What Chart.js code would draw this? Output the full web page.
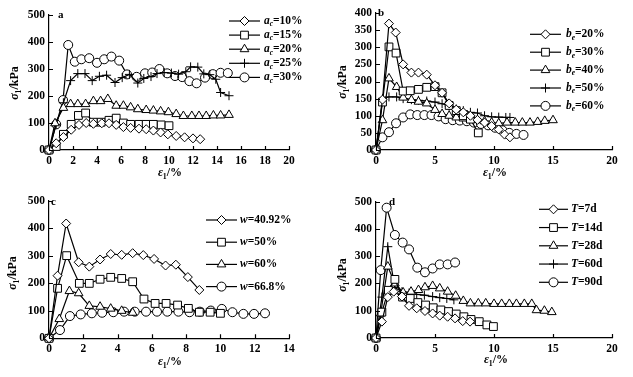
<!DOCTYPE html>
<html>
<head>
<meta charset="utf-8">
<script src="https://cdn.jsdelivr.net/npm/chart.js@4/dist/chart.umd.min.js"></script>
<style>
  body { margin: 0; background: #fff; }
  #wrap { position: relative; width: 633px; height: 377px; background: #fff; }
  canvas { position: absolute; }
</style>
</head>
<body>
<div id="wrap">
  <canvas id="pa" width="310" height="185" style="left:0;top:0"></canvas>
  <canvas id="pb" width="323" height="185" style="left:310px;top:0"></canvas>
  <canvas id="pc" width="310" height="192" style="left:0;top:185px"></canvas>
  <canvas id="pd" width="323" height="192" style="left:310px;top:185px"></canvas>
</div>
<script>
// ---- panel a : a_c ----
const aX10 = [0,0.6,1.2,1.85,2.5,3.1,3.7,4.4,5.0,5.6,6.2,6.8,7.5,8.1,8.7,9.3,9.9,10.6,11.3,12.0,12.6];
const aY10 = [0,25,48,75,93,100,97,99,99,93,85,82,79,77,72,65,58,52,47,43,40];
const aX15 = [0,0.6,1.2,1.85,2.45,3.05,3.7,4.35,5.0,5.6,6.2,6.8,7.5,8.1,8.7,9.35,10.0];
const aY15 = [0,13,58,95,128,137,103,103,110,118,100,95,95,95,95,93,90];
const aX20 = [0,0.5,1.2,1.8,2.4,3.05,3.7,4.3,4.9,5.6,6.2,6.8,7.4,8.1,8.7,9.3,9.95,10.6,11.2,11.9,12.5,13.1,13.7,14.3,15.0];
const aY20 = [0,99,156,170,170,170,181,181,189,164,164,158,151,148,146,143,140,133,126,126,126,126,128,128,130];
const aX25 = [0,0.6,1.2,1.8,2.4,3.0,3.6,4.2,4.8,5.5,6.1,6.7,7.4,7.9,8.5,9.0,9.6,10.2,10.8,11.4,11.8,12.4,12.9,13.4,13.9,14.3,15.0];
const aY25 = [0,95,175,257,283,283,257,273,277,250,268,280,248,265,272,283,287,285,281,290,308,307,282,279,262,213,201];
const aX30 = [0,0.6,1.17,1.6,2.15,2.7,3.35,4.0,4.6,5.2,5.85,6.5,7.3,8.0,8.6,9.2,9.85,10.5,11.1,11.7,12.3,13.0,13.65,14.3,14.9];
const aY30 = [0,95,185,389,327,336,340,323,336,346,331,280,271,284,287,300,284,274,270,255,247,268,281,286,285];
const aNames = ['10%','15%','20%','25%','30%'];

// ---- panel b : b_e ----
const bX20 = [0,0.55,1.1,1.67,2.3,3.0,3.6,4.3,5.0,5.6,6.2,6.8,7.4,8.0,8.6,9.2,9.8,10.4,10.9,11.35];
const bY20 = [0,147,369,343,250,226,226,220,189,167,136,118,110,100,88,80,70,60,45,37];
const bX30 = [0,0.55,1.1,1.7,2.3,2.9,3.6,4.3,5.0,5.6,6.2,6.8,7.4,8.0,8.67];
const bY30 = [0,140,301,283,172,173,177,183,185,167,130,115,100,90,50];
const bX40 = [0,0.55,1.1,1.75,2.3,3.0,3.6,4.3,5.0,5.6,6.2,6.8,7.4,8.0,8.6,9.2,9.8,10.4,11.1,11.8,12.4,13.05,13.7,14.3,15.0];
const bY40 = [0,87,209,184,153,146,141,136,117,105,100,95,92,90,87,84,80,78,80,80,80,80,82,85,87];
const bX50 = [0,0.55,1.1,1.75,2.3,3.0,3.6,4.3,5.0,5.6,6.2,6.8,7.4,8.0,8.6,9.2,9.8,10.4,11.0,11.35];
const bY50 = [0,150,155,155,150,147,145,143,140,135,128,120,115,110,108,100,97,96,95,95];
const bX60 = [0,0.55,1.1,1.7,2.3,2.9,3.5,4.1,4.7,5.3,5.9,6.5,7.1,7.7,8.3,8.9,9.5,10.1,10.7,11.3,11.9,12.5];
const bY60 = [0,37,52,78,95,104,102,102,102,98,90,87,86,84,80,76,72,65,58,50,47,44];
const bNames = ['20%','30%','40%','50%','60%'];

// ---- panel c : w ----
const cX4092 = [0,0.5,1.0,1.73,2.35,2.98,3.6,4.24,4.88,5.5,6.13,6.8,7.4,8.1,8.77];
const cY4092 = [0,228,418,277,261,287,307,304,310,303,289,265,268,223,176];
const cX50 = [0,0.5,1.03,1.77,2.35,2.98,3.6,4.24,4.88,5.54,6.19,6.83,7.5,8.13,8.77,9.4,10.0];
const cY50 = [0,182,301,200,200,215,222,218,206,143,127,127,121,109,95,95,91];
const cX60 = [0,0.6,1.19,1.73,2.35,2.98,3.6,4.24,4.88];
const cY60 = [0,70,172,164,118,115,108,100,93];
const cX668 = [0,0.64,1.22,1.85,2.5,3.1,3.75,4.38,5.0,5.66,6.3,6.9,7.55,8.2,8.8,9.44,10.08,10.7,11.34,11.96,12.6];
const cY668 = [0,30,81,87,91,93,95,97,97,97,97,97,97,95,97,101,107,95,89,89,91];
const cNames = ['40.92%','50%','60%','66.8%'];

// ---- panel d : T ----
const dX7 = [0,0.5,1.0,1.5,2.2,2.8,3.45,4.15,4.8,5.4,6.07,6.7,7.35,7.97];
const dY7 = [0,60,150,170,152,118,109,99,90,82,78,72,62,60];
const dX14 = [0,0.5,1.05,1.6,2.25,2.9,3.55,4.2,4.85,5.5,6.15,6.8,7.45,8.05,8.75,9.4,9.95];
const dY14 = [0,95,175,215,150,145,130,121,111,103,97,88,78,68,60,48,42];
const dX28 = [0,0.4,1.0,1.6,2.3,2.97,3.6,4.15,4.8,5.4,6.07,6.75,7.4,8.0,8.67,9.3,10.0,10.65,11.3,11.9,12.57,13.2,13.6,14.27,14.9];
const dY28 = [0,90,262,200,167,170,176,186,191,182,170,155,136,127,127,127,125,125,125,125,125,125,102,100,95];
const dX60 = [0,0.5,1.0,1.6,2.2,2.8,3.45,4.1,4.8,5.4,6.0,6.6];
const dY60 = [0,150,335,185,170,165,160,157,152,148,145,140];
const dX90 = [0,0.4,0.9,1.6,2.26,2.8,3.5,4.15,4.8,5.4,6.07,6.7];
const dY90 = [0,249,478,378,350,325,258,241,255,270,270,277];
const dNames = ['7d','14d','28d','60d','90d'];

const FONT = '"Liberation Serif", "Times New Roman", serif';
const MARK = {
  rectRot: 4.5, rect: 5.5, triangle: 5, cross: 4.5, circle: 4.5
};

function series(xs, ys, style) {
  return {
    data: xs.map((x, i) => ({ x: x, y: ys[i] })),
    borderColor: '#000',
    borderWidth: 1.2,
    pointStyle: style,
    pointRadius: MARK[style],
    pointBackgroundColor: '#fff',
    pointBorderColor: '#000',
    pointBorderWidth: 1,
    tension: 0,
    clip: false
  };
}

// draw text pieces: {t, it (italic), sub (subscript)}
function richWidth(ctx, parts, size) {
  let w = 0;
  parts.forEach(p => {
    const s = p.sub ? size * 0.65 : size;
    ctx.font = (p.it ? 'italic ' : '') + 'bold ' + s + 'px ' + FONT;
    w += ctx.measureText(p.t).width;
  });
  return w;
}
function drawRich(ctx, x, y, parts, size) {
  ctx.textAlign = 'left';
  ctx.textBaseline = 'middle';
  parts.forEach(p => {
    const s = p.sub ? size * 0.65 : size;
    ctx.font = (p.it ? 'italic ' : '') + 'bold ' + s + 'px ' + FONT;
    ctx.fillText(p.t, x, p.sub ? y + size * 0.3 : y);
    x += ctx.measureText(p.t).width;
  });
}

const decor = {
  id: 'decor',
  afterDraw(chart, args, o) {
    const ctx = chart.ctx;
    const xs = chart.scales.x, ys = chart.scales.y;
    ctx.save();
    ctx.strokeStyle = '#000';
    ctx.fillStyle = '#000';
    ctx.lineWidth = 1.2;
    // inward tick marks
    ctx.beginPath();
    xs.ticks.forEach(t => {
      const px = Math.round(xs.getPixelForValue(t.value)) + 0.5;
      ctx.moveTo(px, ys.bottom); ctx.lineTo(px, ys.bottom - 4);
    });
    ys.ticks.forEach(t => {
      const py = Math.round(ys.getPixelForValue(t.value)) + 0.5;
      ctx.moveTo(xs.left, py); ctx.lineTo(xs.left + 4, py);
    });
    ctx.stroke();

    // panel letter
    ctx.font = 'bold 11px ' + FONT;
    ctx.textAlign = 'left';
    ctx.textBaseline = 'middle';
    ctx.fillText(o.tag, o.tagPos[0], o.tagPos[1]);

    // axis titles
    const xt = [{ t: 'ε', it: 1 }, { t: '1', sub: 1 }, { t: '/%' }];
    const w1 = richWidth(ctx, xt, 12);
    drawRich(ctx, o.xTitle[0] - w1 / 2, o.xTitle[1], xt, 12);
    const yt = [{ t: 'σ', it: 1 }, { t: '1', sub: 1 }, { t: '/kPa' }];
    const w2 = richWidth(ctx, yt, 12);
    ctx.save();
    ctx.translate(o.yTitle[0], o.yTitle[1]);
    ctx.rotate(-Math.PI / 2);
    drawRich(ctx, -w2 / 2, 0, yt, 12);
    ctx.restore();

    // legend
    const L = o.legend;
    chart.data.datasets.forEach((ds, i) => {
      const y = L.y + i * L.dy;
      ctx.lineWidth = 1.2;
      ctx.strokeStyle = '#000';
      ctx.beginPath();
      ctx.moveTo(L.x0, y); ctx.lineTo(L.x1, y);
      ctx.stroke();
      ctx.fillStyle = '#fff';
      ctx.lineWidth = 1;
      Chart.helpers.drawPoint(ctx, {
        pointStyle: ds.pointStyle, radius: ds.pointRadius, rotation: 0, borderWidth: 1
      }, (L.x0 + L.x1) / 2, y);
      ctx.fillStyle = '#000';
      drawRich(ctx, L.tx, y, L.labels[i], 11.5);
    });
    ctx.restore();
  }
};

function panel(id, datasets, xMax, xStep, yMax, yStep, box, deco) {
  new Chart(document.getElementById(id), {
    type: 'line',
    data: { datasets: datasets },
    options: {
      responsive: false,
      animation: false,
      devicePixelRatio: 1,
      layout: { padding: { top: box.top, right: box.right, left: 0, bottom: 0 } },
      plugins: { legend: { display: false }, tooltip: { enabled: false }, decor: deco },
      scales: {
        x: {
          type: 'linear', min: 0, max: xMax,
          grid: { display: false, drawTicks: false },
          border: { display: true, color: '#000', width: 1.2 },
          ticks: { stepSize: xStep, padding: 4, color: '#000', font: { family: FONT, size: 11.5, weight: 'bold' }, maxRotation: 0 },
          afterFit: s => { s.height = box.xh; }
        },
        y: {
          type: 'linear', min: 0, max: yMax,
          grid: { display: false, drawTicks: false },
          border: { display: true, color: '#000', width: 1.2 },
          ticks: { stepSize: yStep, padding: 4, color: '#000', font: { family: FONT, size: 11.5, weight: 'bold' } },
          afterFit: s => { s.width = box.yw; }
        }
      }
    },
    plugins: [decor]
  });
}

const styles = ['rectRot', 'rect', 'triangle', 'cross', 'circle'];

panel('pa', [
  series(aX10, aY10, styles[0]), series(aX15, aY15, styles[1]), series(aX20, aY20, styles[2]),
  series(aX25, aY25, styles[3]), series(aX30, aY30, styles[4])
], 20, 2, 500, 100, { top: 15, right: 21, xh: 35, yw: 49 }, {
  tag: 'a', tagPos: [58, 15], xTitle: [170, 173], yTitle: [15, 83],
  legend: { x0: 229, x1: 260, tx: 264, y: 21, dy: 14.1,
    labels: aNames.map(n => [{ t: 'a', it: 1 }, { t: 'c', it: 1, sub: 1 }, { t: '=' + n }]) }
});

panel('pb', [
  series(bX20, bY20, styles[0]), series(bX30, bY30, styles[1]), series(bX40, bY40, styles[2]),
  series(bX50, bY50, styles[3]), series(bX60, bY60, styles[4])
], 20, 5, 400, 50, { top: 13, right: 21, xh: 35, yw: 66 }, {
  tag: 'b', tagPos: [68, 13], xTitle: [185, 173], yTitle: [33, 82],
  legend: { x0: 220, x1: 251, tx: 256, y: 34.3, dy: 17.9,
    labels: bNames.map(n => [{ t: 'b', it: 1 }, { t: 'e', it: 1, sub: 1 }, { t: '=' + n }]) }
});

panel('pc', [
  series(cX4092, cY4092, styles[0]), series(cX50, cY50, styles[1]),
  series(cX60, cY60, styles[2]), series(cX668, cY668, styles[4])
], 14, 2, 500, 100, { top: 16, right: 21, xh: 38.7, yw: 49 }, {
  tag: 'c', tagPos: [51, 17], xTitle: [170, 177], yTitle: [13, 88],
  legend: { x0: 206, x1: 237, tx: 240, y: 35, dy: 22.2,
    labels: cNames.map(n => [{ t: 'w', it: 1 }, { t: '=' + n }]) }
});

panel('pd', [
  series(dX7, dY7, styles[0]), series(dX14, dY14, styles[1]), series(dX28, dY28, styles[2]),
  series(dX60, dY60, styles[3]), series(dX90, dY90, styles[4])
], 20, 5, 500, 100, { top: 16.7, right: 21, xh: 39, yw: 66 }, {
  tag: 'd', tagPos: [79, 17], xTitle: [186, 175], yTitle: [33, 90],
  legend: { x0: 229, x1: 258, tx: 261, y: 24.3, dy: 18.25,
    labels: dNames.map(n => [{ t: 'T', it: 1 }, { t: '=' + n }]) }
});
</script>
</body>
</html>
